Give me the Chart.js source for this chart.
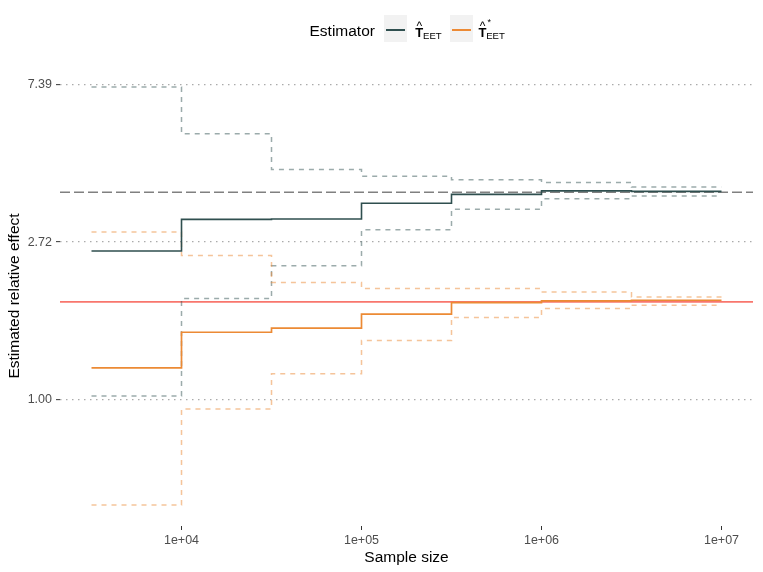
<!DOCTYPE html>
<html><head><meta charset="utf-8">
<script src="https://cdn.jsdelivr.net/npm/chart.js@4.4.1/dist/chart.umd.min.js"></script>
<style>
html,body{margin:0;padding:0;background:#fff;}
#wrap{position:relative;width:763px;height:572px;overflow:hidden;}
canvas{position:absolute;left:0;top:0;}
.t{position:absolute;line-height:1;white-space:nowrap;font-family:"Liberation Sans",Arial,Helvetica,sans-serif;color:#000;}
.key{position:absolute;background:#F2F2F2;width:23px;height:27px;top:15px;}
.key i{position:absolute;left:2px;right:2px;top:14px;height:1.7px;}
</style></head><body>
<div id="wrap">
<canvas id="c" width="763" height="572"></canvas>
<div class="t" style="left:309.5px;top:22.9px;font-size:15.5px">Estimator</div>
<div class="key" style="left:384px"><i style="background:#2F4F4F"></i></div>
<div class="t" style="left:415.3px;top:26.3px;font-size:13px;font-weight:bold">T</div>
<div class="t" style="left:416.6px;top:19.6px;font-size:12px">^</div>
<div class="t" style="left:423px;top:30.6px;font-size:9.6px">EET</div>
<div class="key" style="left:449.5px"><i style="background:#EC8A35"></i></div>
<div class="t" style="left:478.5px;top:26.3px;font-size:13px;font-weight:bold">T</div>
<div class="t" style="left:479.8px;top:19.6px;font-size:12px">^</div>
<div class="t" style="left:487.6px;top:17.5px;font-size:9px">*</div>
<div class="t" style="left:486.2px;top:30.6px;font-size:9.6px">EET</div>
</div>
<script>
const sampleSizes = [3162, 10000, 31623, 100000, 316228, 1000000, 3162278, 10000000];
const teetEstimate = [2.569, 3.141, 3.147, 3.477, 3.680, 3.763, 3.752, 3.752];
const teetLower = [1.024, 1.900, 2.339, 2.939, 3.347, 3.578, 3.640, 3.640];
const teetUpper = [7.280, 5.410, 4.310, 4.130, 4.035, 3.970, 3.855, 3.855];
const teetStarEstimate = [1.223, 1.534, 1.574, 1.720, 1.852, 1.871, 1.879, 1.879];
const teetStarLower = [0.512, 0.942, 1.178, 1.456, 1.684, 1.783, 1.821, 1.821];
const teetStarUpper = [2.898, 2.495, 2.102, 2.024, 2.024, 1.981, 1.919, 1.919];
const trueTeet = 3.73;
const trueTeetStar = 1.86;
const xTickValues = [1e4, 1e5, 1e6, 1e7];
const xTickLabels = ['1e+04', '1e+05', '1e+06', '1e+07'];
const yTickValues = [1, 2.71828, 7.38906];
const yTickLabels = ['1.00', '2.72', '7.39'];

// ggplot-like 5% expansion on log scales
function logLimits(vals){
  const lo = Math.log10(Math.min(...vals)), hi = Math.log10(Math.max(...vals));
  const pad = (hi - lo) * 0.05;
  return [Math.pow(10, lo - pad), Math.pow(10, hi + pad)];
}
const xLim = logLimits(sampleSizes);
const yLim = logLimits([].concat(teetEstimate, teetLower, teetUpper, teetStarEstimate, teetStarLower, teetStarUpper));

const DARK = '#2F4F4F', ORANGE = '#EC8A35';
const DARK_CI = 'rgba(47,79,79,0.48)', ORANGE_CI = 'rgba(236,138,53,0.5)';

function pts(ys){ return sampleSizes.map((x,i)=>({x:x, y:ys[i]})); }
function hline(v){ return [{x:xLim[0], y:v}, {x:xLim[1], y:v}]; }

function stepSet(data, color, width, dash){
  return {data:data, borderColor:color, borderWidth:width, borderDash:dash||[], stepped:true,
    pointRadius:0, fill:false, tension:0};
}

const datasets = [
  stepSet(pts(teetStarEstimate), ORANGE, 1.7),
  stepSet(pts(teetEstimate), DARK, 1.6),
  stepSet(pts(teetStarLower), ORANGE_CI, 1.5, [5,5]),
  stepSet(pts(teetStarUpper), ORANGE_CI, 1.5, [5,5]),
  stepSet(pts(teetLower), DARK_CI, 1.5, [5,5]),
  stepSet(pts(teetUpper), DARK_CI, 1.5, [5,5]),
  {data:hline(trueTeetStar), borderColor:'#F8766D', borderWidth:1.8, pointRadius:0, fill:false},
  {data:hline(trueTeet), borderColor:'#808080', borderWidth:1.4, borderDash:[10,4], pointRadius:0, fill:false}
];

const FONT = '"Liberation Sans", Arial, Helvetica, sans-serif';

new Chart(document.getElementById('c'), {
  type:'line',
  data:{datasets:datasets},
  options:{
    responsive:false, animation:false, devicePixelRatio:1,
    layout:{padding:{top:66, right:10, left:0, bottom:0}},
    plugins:{legend:{display:false}, tooltip:{enabled:false}},
    scales:{
      x:{
        type:'logarithmic', min:xLim[0], max:xLim[1],
        afterBuildTicks:(s)=>{ s.ticks = xTickValues.map(v=>({value:v})); },
        afterFit:(s)=>{ s.height = 46; },
        ticks:{autoSkip:false, maxRotation:0, minRotation:0, padding:3, color:'#4D4D4D',
          font:{family:FONT, size:12.5},
          callback:(v)=>{ const i = xTickValues.indexOf(v); return i>=0 ? xTickLabels[i] : ''; }},
        grid:{display:true, drawOnChartArea:false, drawTicks:true, tickLength:4, tickColor:'#333333', tickWidth:1},
        border:{display:false},
        title:{display:true, text:'Sample size', color:'#000', font:{family:FONT, size:15.5}, padding:{top:0, bottom:4.5}}
      },
      y:{
        type:'logarithmic', min:yLim[0], max:yLim[1],
        afterBuildTicks:(s)=>{ s.ticks = yTickValues.map(v=>({value:v})); },
        afterFit:(s)=>{ s.width = 60; },
        ticks:{autoSkip:false, padding:4, color:'#4D4D4D', font:{family:FONT, size:12.5},
          callback:(v)=>{ const i = yTickValues.indexOf(v); return i>=0 ? yTickLabels[i] : ''; }},
        grid:{display:true, drawOnChartArea:true, drawTicks:true, tickLength:4, color:'#ABABAB', lineWidth:1.3,
          tickColor:'#333333', tickWidth:1, tickBorderDash:[]},
        border:{display:false, dash:[1.5,4.5]},
        title:{display:true, text:'Estimated relative effect', color:'#000', font:{family:FONT, size:15.5}, padding:{top:5.5, bottom:0}}
      }
    }
  }
});
</script>
</body></html>
